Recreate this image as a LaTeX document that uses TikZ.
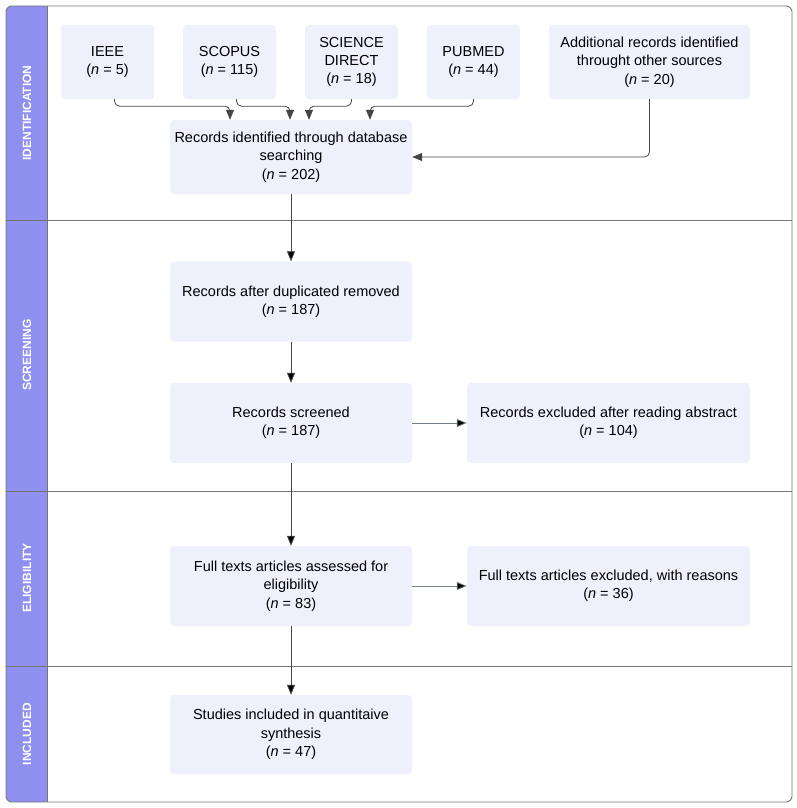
\documentclass[tikz,border=0pt]{standalone}
\usepackage{fontspec}
\setmainfont{Liberation Sans}
\usetikzlibrary{arrows.meta,positioning}
\definecolor{lanefill}{RGB}{143,143,240}
\definecolor{boxfill}{RGB}{238,240,252}
\definecolor{framegray}{RGB}{118,118,118}
\definecolor{wiregray}{RGB}{70,70,70}
\definecolor{sidegray}{RGB}{115,125,135}
\tikzset{
  box/.style={fill=boxfill, rounded corners=4pt, align=center, inner sep=2pt,
    font=\fontsize{14.5}{18.4}\selectfont},
  link/.style={draw=wiregray, line width=0.8pt, rounded corners=5pt,
    -{Triangle[length=10pt,width=8pt]}},
  sidelink/.style={link, draw=sidegray},
  lanelabel/.style={rotate=90, text=white, font=\bfseries\fontsize{12}{14}\selectfont}
}

\begin{document}
\begin{tikzpicture}[x=1pt, y=-1pt]
    \useasboundingbox (0,0) rectangle (797,808);
    % swimlanes
    \fill[lanefill, rounded corners=6pt] (6,6) rectangle (47,802);
    \fill[lanefill] (30,6) rectangle (47,802);
    \draw[framegray, line width=0.9pt] (47,6) -- (47,802);
    \foreach \y in {220,491,666}
      \draw[framegray, line width=0.9pt] (6,\y) -- (792,\y);
    \draw[framegray, line width=0.9pt, rounded corners=6pt] (6,6) rectangle (792,802);
    \node[lanelabel] (labident) at (27,113) {IDENTIFICATION};
    \node[lanelabel] (labscreen) at (27,355) {SCREENING};
    \node[lanelabel] (labelig) at (27,578) {ELIGIBILITY};
    \node[lanelabel] (labincl) at (27,734) {INCLUDED};

    % sources
    \node[box, minimum width=93pt, minimum height=74pt] (ieee) at (107.5,62) {IEEE\\(\textit{n} = 5)};
    \node[box, minimum width=93pt, minimum height=74pt] (scopus) at (229.5,62) {SCOPUS\\(\textit{n} = 115)};
    \node[box, minimum width=93pt, minimum height=74pt] (scidir) at (351.5,62) {SCIENCE\\DIRECT\\(\textit{n} = 18)};
    \node[box, minimum width=93pt, minimum height=74pt] (pubmed) at (473.5,62) {PUBMED\\(\textit{n} = 44)};
    \node[box, minimum width=201pt, minimum height=74pt] (addl) at (649.5,62) {Additional records identified\\throught other sources\\(\textit{n} = 20)};

    % main column
    \node[box, minimum width=242pt, minimum height=74pt] (ident) at (291,157) {Records identified through database\\searching\\(\textit{n} = 202)};
    \node[box, minimum width=242pt, minimum height=80pt] (dedup) at (291,301.5) {Records after duplicated removed\\(\textit{n} = 187)};
    \node[box, minimum width=242pt, minimum height=80pt] (screen) at (291,423) {Records screened\\(\textit{n} = 187)};
    \node[box, minimum width=283pt, minimum height=80pt] (exabs) at (608.5,423) {Records excluded after reading abstract\\(\textit{n} = 104)};
    \node[box, minimum width=242pt, minimum height=80pt] (fulltext) at (291,586) {Full texts articles assessed for\\eligibility\\(\textit{n} = 83)};
    \node[box, minimum width=283pt, minimum height=80pt] (exfull) at (608.5,586) {Full texts articles excluded, with reasons\\(\textit{n} = 36)};
    \node[box, minimum width=242pt, minimum height=79pt] (incl) at (291,734.5) {Studies included in quantitaive\\synthesis\\(\textit{n} = 47)};

    % connectors
    \draw[link] ([xshift=7pt]ieee.south) -- ++(0,7) -| ([xshift=-61pt]ident.north);
    \draw[link] ([xshift=7pt]scopus.south) -- ++(0,7) -| ([xshift=-1pt]ident.north);
    \draw[link] (scidir.south) -- ++(0,7) -| ([xshift=18pt]ident.north);
    \draw[link] (pubmed.south) -- ++(0,7) -| ([xshift=79pt]ident.north);
    \draw[link] (addl.south) |- (ident.east);
    \path[link]
      (ident) edge (dedup)
      (dedup) edge (screen)
      (screen) edge (fulltext)
      (fulltext) edge (incl);
    \path[sidelink]
      (screen) edge (exabs)
      (fulltext) edge (exfull);
\end{tikzpicture}
\end{document}
